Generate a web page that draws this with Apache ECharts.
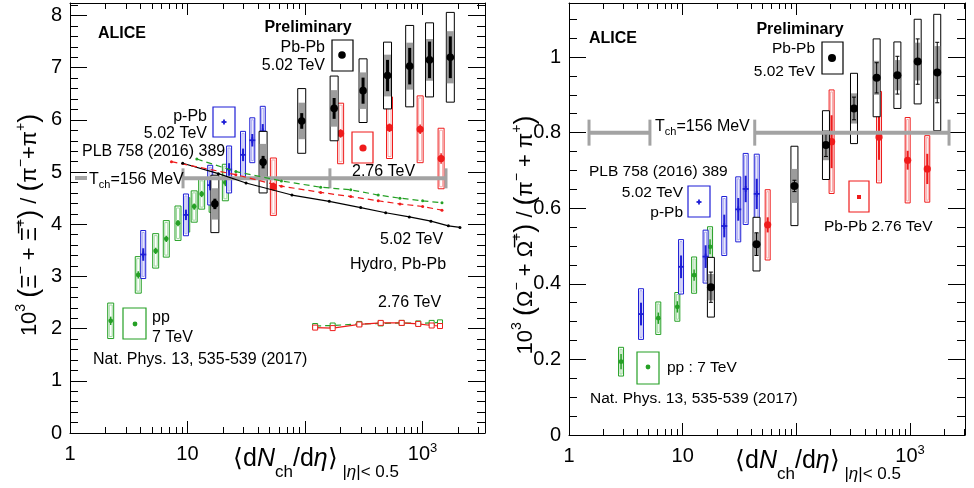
<!DOCTYPE html>
<html>
<head>
<meta charset="utf-8">
<title>ALICE multi-strange to pion ratios</title>
<script src="https://cdn.jsdelivr.net/npm/echarts@6/dist/echarts.min.js"></script>
<style>
  html, body { margin: 0; padding: 0; background: #fff; }
  #main { width: 974px; height: 488px; }
</style>
</head>
<body>
<div id="main"></div>
<script>
var FONT = '"Liberation Sans", Arial, Helvetica, sans-serif';

// ---------- left panel : Xi / pi ----------
var xiPP_x = [2.22, 3.81, 5.36, 6.6, 8.3, 9.85, 11.4, 13.2, 16.2, 21];
var xiPP_y = [2.15, 3.03, 3.49, 3.72, 4.02, 4.18, 4.34, 4.58, 4.53, 4.80];
var xiPP_sys = [0.34, 0.35, 0.33, 0.35, 0.33, 0.33, 0.30, 0.29, 0.30, 0.35];
var xiPP_stat = [0.08, 0.07, 0.06, 0.06, 0.06, 0.06, 0.06, 0.06, 0.06, 0.07];

var xiPPb_x = [4.2, 9.7, 15.6, 22.6, 29.7, 35.6, 43.7];
var xiPPb_y = [3.42, 4.18, 4.75, 5.05, 5.33, 5.61, 5.78];
var xiPPb_sys = [0.46, 0.40, 0.38, 0.45, 0.45, 0.43, 0.48];
var xiPPb_stat = [0.12, 0.10, 0.10, 0.12, 0.12, 0.12, 0.14];

var xiPb5_x = [17.1, 44, 93.8, 177, 312, 504, 778, 1148, 1725];
var xiPb5_y = [4.39, 5.19, 5.98, 6.22, 6.56, 6.85, 7.03, 7.15, 7.20];
var xiPb5_sys = [0.55, 0.59, 0.62, 0.62, 0.61, 0.64, 0.78, 0.71, 0.86];
var xiPb5_unc = [0.30, 0.35, 0.35, 0.35, 0.35, 0.40, 0.45, 0.40, 0.50];
var xiPb5_stat = [0.10, 0.12, 0.15, 0.20, 0.25, 0.30, 0.35, 0.35, 0.40];

var xiPb2_x = [53.8, 201, 524, 955, 1440];
var xiPb2_y = [4.72, 5.74, 5.85, 5.82, 5.26];
var xiPb2_sys = [0.55, 0.58, 0.59, 0.64, 0.58];
var xiPb2_stat = [0.08, 0.08, 0.08, 0.09, 0.10];

// hydro curves
var hyd502_x = [9.1, 18.3, 31.5, 77.4, 161, 298, 486, 772, 1180, 1660, 2084];
var hyd502_y = [5.17, 4.97, 4.79, 4.56, 4.44, 4.32, 4.22, 4.14, 4.06, 3.97, 3.94];
var hydG_x = [12, 25.8, 63, 136, 245, 420, 643, 1003, 1465];
var hydG_y = [5.25, 5.01, 4.83, 4.71, 4.66, 4.56, 4.50, 4.45, 4.41];
var hydR_x = [7.3, 25.8, 63, 136, 245, 420, 643, 1003, 1465];
var hydR_y = [5.20, 4.95, 4.73, 4.61, 4.53, 4.45, 4.39, 4.34, 4.27];
var low_x = [122, 172, 290, 441, 665, 920, 1197, 1409];
var lowR_y = [2.02, 2.01, 2.08, 2.11, 2.11, 2.09, 2.06, 2.05];
var lowG_y = [2.05, 2.06, 2.09, 2.10, 2.11, 2.10, 2.11, 2.12];

// T_ch = 156 MeV bands
var tchL_y = 4.88;
var tchL_segs = [[9.16, 1585]];
var tchL_caps = [9.16, 163, 1585];

// ---------- right panel : Omega / pi ----------
var omPP_x = [2.87, 6.1, 8.97, 12.6, 17.4];
var omPP_y = [0.194, 0.309, 0.339, 0.423, 0.498];
var omPP_sys = [0.038, 0.043, 0.038, 0.048, 0.053];
var omPP_stat = [0.02, 0.015, 0.015, 0.015, 0.02];

var omPPb_x = [4.3, 9.67, 15.9, 23.2, 30.8, 35.8, 44.8];
var omPPb_y = [0.32, 0.445, 0.472, 0.553, 0.597, 0.651, 0.638];
var omPPb_sys = [0.067, 0.072, 0.07, 0.078, 0.086, 0.094, 0.105];
var omPPb_stat = [0.03, 0.03, 0.03, 0.03, 0.03, 0.035, 0.04];

var omPb5_x = [17.7, 44.6, 96.1, 182, 321, 508, 773, 1166, 1733];
var omPb5_y = [0.391, 0.505, 0.659, 0.767, 0.864, 0.945, 0.952, 0.988, 0.959];
var omPb5_sys = [0.079, 0.071, 0.105, 0.091, 0.093, 0.103, 0.088, 0.112, 0.154];
var omPb5_unc = [0.035, 0.03, 0.045, 0.04, 0.04, 0.045, 0.04, 0.05, 0.07];
var omPb5_stat = [0.04, 0.03, 0.015, 0.03, 0.03, 0.04, 0.05, 0.06, 0.08];

var omPb2_x = [55.9, 204, 533, 952, 1416];
var omPb2_y = [0.556, 0.776, 0.788, 0.727, 0.704];
var omPb2_sys = [0.093, 0.137, 0.121, 0.113, 0.088];
var omPb2_stat = [0.02, 0.07, 0.06, 0.025, 0.04];

var tchR_y = 0.8;
var tchR_segs = [[1.5, 5.15], [43, 2200]];
var tchR_caps = [1.5, 5.15, 43, 2200];

// axis ticks
var logMajor = [1, 10, 100, 1000];
var logMinor = [2, 3, 4, 5, 6, 7, 8, 9, 20, 30, 40, 50, 60, 70, 80, 90,
  200, 300, 400, 500, 600, 700, 800, 900, 2000, 3000];
var logLabels = [1, 10, 1000];
var xiMajor = [0, 1, 2, 3, 4, 5, 6, 7, 8];
var omMajor = [0, 0.2, 0.4, 0.6, 0.8, 1];

function minorOf(step, max, major) {
  var out = [];
  for (var i = 1; i * step <= max + 1e-9; i++) {
    var v = +(i * step).toFixed(4);
    if (major.indexOf(v) < 0) out.push(v);
  }
  return out;
}
var xiMinor = minorOf(0.2, 8.24, xiMajor);
var omMinor = minorOf(0.05, 1.14, omMajor);

var C_GREEN = '#25a025', C_BLUE = '#1d1dd6', C_RED = '#ef1b1b', C_GREY = '#a3a3a3';

var blk = { color: '#000', lineStyle: { color: '#000', width: 1 } };

function logAxes(grid, max) {
  function ax(pos, major) {
    var a = {
      type: 'log', logBase: 10, gridIndex: grid, min: 1, max: max, position: pos,
      splitLine: { show: false },
      axisLine: { show: major, onZero: false, lineStyle: { color: '#000', width: 1 } },
      axisTick: { inside: true, length: major ? 12 : 6, customValues: major ? logMajor : logMinor,
        lineStyle: { color: '#000', width: 1 } },
      axisLabel: { show: false }
    };
    if (major && pos === 'bottom') {
      a.axisLabel = {
        show: true, customValues: logLabels, margin: 9, color: '#000',
        formatter: function (v) {
          v = Math.round(v);
          return v === 1000 ? '{a|10}{b|3}' : '{a|' + v + '}';
        },
        rich: {
          a: { fontSize: 20, fontFamily: FONT, color: '#000', lineHeight: 24 },
          b: { fontSize: 13, fontFamily: FONT, color: '#000', lineHeight: 13, verticalAlign: 'top' }
        }
      };
    }
    return a;
  }
  return [ax('bottom', true), ax('bottom', false), ax('top', true), ax('top', false)];
}

function valAxes(grid, max, major, minor, fmt) {
  function ax(pos, isMajor) {
    var a = {
      type: 'value', gridIndex: grid, min: 0, max: max, position: pos,
      splitLine: { show: false },
      axisLine: { show: isMajor, onZero: false, lineStyle: { color: '#000', width: 1 } },
      axisTick: { inside: true, length: isMajor ? 17 : 8, customValues: isMajor ? major : minor,
        lineStyle: { color: '#000', width: 1 } },
      axisLabel: { show: false }
    };
    if (isMajor && pos === 'left') {
      a.axisLabel = { show: true, customValues: major, formatter: fmt, fontSize: 20,
        fontFamily: FONT, color: '#000', margin: 8 };
    }
    return a;
  }
  return [ax('left', true), ax('left', false), ax('right', true), ax('right', false)];
}

function zip(xs, ys) { return xs.map(function (x, i) { return [x, ys[i]]; }); }

// box + stat bar + marker for each point
function errSeries(xi, xs, ys, sys, stat, unc, st) {
  var data = xs.map(function (x, i) {
    return [x, ys[i], sys[i], stat ? stat[i] : 0, unc ? unc[i] : 0];
  });
  return {
    type: 'custom', xAxisIndex: xi, yAxisIndex: xi, data: data, z: st.z || 3,
    silent: true, animation: false,
    renderItem: function (params, api) {
      var x = api.value(0), y = api.value(1);
      var p = api.coord([x, y]);
      var w = st.w, kids = [];
      var yt = api.coord([x, y + api.value(2)])[1];
      var yb = api.coord([x, y - api.value(2)])[1];
      kids.push({ type: 'rect', shape: { x: p[0] - w / 2, y: yt, width: w, height: yb - yt },
        style: { fill: '#fff', stroke: st.color, lineWidth: 1 } });
      if (api.value(4)) {
        var ut = api.coord([x, y + api.value(4)])[1], ub = api.coord([x, y - api.value(4)])[1];
        kids.push({ type: 'rect', shape: { x: p[0] - w / 2 + 0.5, y: ut, width: w - 1, height: ub - ut },
          style: { fill: st.uncFill } });
      }
      if (st.inner) {
        kids.push({ type: 'rect', shape: { x: p[0] - w / 2 + 1.5, y: yt + 2, width: w - 3, height: yb - yt - 4 },
          style: { fill: 'none', stroke: st.inner, lineWidth: 1 } });
      }
      if (api.value(3)) {
        var st1 = api.coord([x, y + api.value(3)])[1], st2 = api.coord([x, y - api.value(3)])[1];
        kids.push({ type: 'line', shape: { x1: p[0], y1: st1, x2: p[0], y2: st2 },
          style: { stroke: st.color, lineWidth: st.statW } });
        if (st.caps) {
          kids.push({ type: 'line', shape: { x1: p[0] - 2, y1: st1, x2: p[0] + 2, y2: st1 }, style: { stroke: st.color, lineWidth: 1 } });
          kids.push({ type: 'line', shape: { x1: p[0] - 2, y1: st2, x2: p[0] + 2, y2: st2 }, style: { stroke: st.color, lineWidth: 1 } });
        }
      }
      kids = kids.concat(marker(st.marker, p[0], p[1], st.r, st.color));
      return { type: 'group', children: kids };
    }
  };
}

function marker(kind, cx, cy, r, color) {
  if (kind === 'plus') {
    return [
      { type: 'line', shape: { x1: cx - r, y1: cy, x2: cx + r, y2: cy }, style: { stroke: color, lineWidth: 1.8 } },
      { type: 'line', shape: { x1: cx, y1: cy - r, x2: cx, y2: cy + r }, style: { stroke: color, lineWidth: 1.8 } }
    ];
  }
  if (kind === 'square') {
    return [{ type: 'rect', shape: { x: cx - r, y: cy - r, width: 2 * r, height: 2 * r }, style: { fill: color } }];
  }
  return [{ type: 'circle', shape: { cx: cx, cy: cy, r: r }, style: { fill: color } }];
}

function tchSeries(xi, y, segs, caps, half) {
  return [{
    type: 'custom', xAxisIndex: xi, yAxisIndex: xi, z: 4, silent: true, animation: false,
    data: segs.map(function (s) { return [s[0], y, s[1]]; }),
    renderItem: function (params, api) {
      var a = api.coord([api.value(0), api.value(1)]), b = api.coord([api.value(2), api.value(1)]);
      return { type: 'line', shape: { x1: a[0], y1: a[1], x2: b[0], y2: b[1] },
        style: { stroke: C_GREY, lineWidth: 4 } };
    }
  }, {
    type: 'custom', xAxisIndex: xi, yAxisIndex: xi, z: 4, silent: true, animation: false,
    data: caps.map(function (c) { return [c, y]; }),
    renderItem: function (params, api) {
      var a = api.coord([api.value(0), api.value(1)]);
      return { type: 'line', shape: { x1: a[0], y1: a[1] - half, x2: a[0], y2: a[1] + half },
        style: { stroke: C_GREY, lineWidth: 3 } };
    }
  }];
}

function curve(xs, ys, color, dashed, symbol, size) {
  return {
    type: 'line', xAxisIndex: 0, yAxisIndex: 0, data: zip(xs, ys), z: 5, silent: true, animation: false,
    lineStyle: { color: color, width: 1.2, type: dashed ? [6, 4] : 'solid' },
    symbol: symbol, symbolSize: size, showSymbol: true,
    itemStyle: symbol === 'rect' ? { color: '#fff', borderColor: color, borderWidth: 1 } : { color: color }
  };
}

var stPP = { w: 6, color: C_GREEN, inner: '#9fd89f', statW: 1.5, marker: 'circle', r: 2.4 };
var stPPb = { w: 5, color: C_BLUE, inner: '#a3a3f0', statW: 2, marker: 'plus', r: 3 };
var stPb5 = { w: 8, color: '#000', uncFill: '#9c9c9c', statW: 3, marker: 'circle', r: 3.8, z: 4 };
var stPb2 = { w: 6, color: C_RED, inner: '#f6a8a8', statW: 1.5, marker: 'circle', r: 3.6 };
var stPP_R = Object.assign({}, stPP, { w: 5 });
var stPb5_R = Object.assign({}, stPb5, { w: 7, statW: 1, caps: true, r: 4 });
var stPb2_R = Object.assign({}, stPb2, { w: 5, statW: 2 });

// ---------- annotations ----------
function txt(x, y, text, o) {
  o = o || {};
  return { type: 'text', x: x, y: y, z: o.z || 10, rotation: o.rot || 0,
    style: { text: text, fill: '#000', font: (o.bold ? 'bold ' : '') + (o.size || 16) + 'px ' + FONT,
      align: o.align || 'left', verticalAlign: 'middle', rich: o.rich } };
}
function legBox(x, y, w, h, color) {
  return { type: 'rect', z: 10, shape: { x: x, y: y, width: w, height: h },
    style: { fill: 'none', stroke: color, lineWidth: 1.2 } };
}
function legMark(kind, cx, cy, r, color) {
  return marker(kind, cx, cy, r, color).map(function (e) { e.z = 11; return e; });
}
var tchRich = {
  n: { fontSize: 16, fontFamily: FONT, lineHeight: 20 },
  s: { fontSize: 11, fontFamily: FONT, lineHeight: 11, verticalAlign: 'bottom' }
};
var xTitleRich = {
  m: { fontSize: 25, fontFamily: FONT, lineHeight: 44 },
  i: { fontSize: 25, fontFamily: FONT, fontStyle: 'italic', lineHeight: 44 },
  s: { fontSize: 17, fontFamily: FONT, lineHeight: 17, verticalAlign: 'bottom' },
  si: { fontSize: 17, fontFamily: FONT, fontStyle: 'italic', lineHeight: 17, verticalAlign: 'bottom' }
};
var xTitle = '{m|\u27e8d}{i|N}{s|ch}{m|/d}{i|\u03b7}{m|\u27e9}{s| |}{si|\u03b7}{s||< 0.5}';
var yRich = {
  m: { fontSize: 22, fontFamily: FONT, lineHeight: 32 },
  b: { fontSize: 27, fontFamily: FONT, lineHeight: 32 },
  p: { fontSize: 14, fontFamily: FONT, lineHeight: 14, verticalAlign: 'top' }
};
var yTitleL = '{m|10}{p|3}{m| }{b|(}{m|\u039e}{p|\u2212}{m| + \u039e\u0305}{p|+}{b|)}{m| / }{b|(}{m|\u03c0}{p|\u2212}{m|+\u03c0}{p|+}{b|)}';
var yTitleR = '{m|10}{p|3}{m| }{b|(}{m|\u03a9}{p|\u2212}{m| + \u03a9\u0305}{p|+}{b|)}{m| / }{b|(}{m|\u03c0}{p|\u2212}{m| + \u03c0}{p|+}{b|)}';

var graphics = [
  // left panel
  txt(98, 34, 'ALICE', { bold: true }),
  txt(308, 28, 'Preliminary', { bold: true, align: 'center' }),
  txt(325, 48, 'Pb-Pb', { align: 'right' }),
  txt(325, 66, '5.02 TeV', { align: 'right' }),
  legBox(332, 40, 21, 31, '#000')
].concat(legMark('circle', 342, 55, 3.8, '#000'), [
  txt(207, 117, 'p-Pb', { align: 'right' }),
  txt(207, 134, '5.02 TeV', { align: 'right' }),
  legBox(213, 107, 22, 30, C_BLUE)
], legMark('plus', 224, 122, 2.5, C_BLUE), [
  txt(82, 152, 'PLB 758 (2016) 389'),
  { type: 'line', z: 10, shape: { x1: 75, y1: 178, x2: 87, y2: 178 }, style: { stroke: C_GREY, lineWidth: 4 } },
  txt(89, 180, '{n|T}{s|ch}{n|=156 MeV}', { rich: tchRich }),
  txt(352, 172, '2.76 TeV', { z: 1 }),
  legBox(352, 132, 21, 31, C_RED)
], legMark('circle', 363, 148, 3.6, C_RED), [
  txt(380, 240, '5.02 TeV'),
  txt(350, 265, 'Hydro, Pb-Pb'),
  txt(378, 303, '2.76 TeV'),
  legBox(123, 308, 23, 31, C_GREEN)
], legMark('circle', 135, 324, 2.4, C_GREEN), [
  txt(152, 318, 'pp'),
  txt(152, 338, '7 TeV'),
  txt(93, 360, 'Nat. Phys. 13, 535-539 (2017)'),
  txt(30, 225, yTitleL, { rich: yRich, align: 'center', rot: Math.PI / 2 }),
  txt(316, 459, xTitle, { rich: xTitleRich, align: 'center' }),
  // right panel
  txt(589, 39, 'ALICE', { bold: true }),
  txt(800, 30, 'Preliminary', { bold: true, align: 'center' }),
  txt(815, 49, 'Pb-Pb', { align: 'right', size: 15.5 }),
  txt(815, 72, '5.02 TeV', { align: 'right', size: 15.5 }),
  legBox(822, 42, 21, 32, '#000')
], legMark('circle', 832, 58, 4, '#000'), [
  txt(655, 127, '{n|T}{s|ch}{n|=156 MeV}', { rich: tchRich }),
  txt(589, 172, 'PLB 758 (2016) 389', { size: 15.5 }),
  txt(683, 193, '5.02 TeV', { align: 'right', size: 15.5 }),
  txt(683, 213, 'p-Pb', { align: 'right', size: 15.5 }),
  legBox(688, 186, 22, 31, C_BLUE)
], legMark('plus', 699, 202, 2.5, C_BLUE), [
  legBox(849, 181, 20, 31, C_RED)
], legMark('square', 859, 197, 2, C_RED), [
  txt(824, 227, 'Pb-Pb 2.76 TeV', { size: 15.5 }),
  legBox(637, 352, 22, 32, C_GREEN)
], legMark('circle', 648, 367, 2.4, C_GREEN), [
  txt(667, 368, 'pp : 7 TeV', { size: 15.5 }),
  txt(590, 399, 'Nat. Phys. 13, 535-539 (2017)', { size: 15.5 }),
  txt(526, 235, yTitleR, { rich: yRich, align: 'center', rot: Math.PI / 2 }),
  txt(818, 461, xTitle, { rich: xTitleRich, align: 'center' })
]);

var chart = echarts.init(document.getElementById('main'));
chart.setOption({
  animation: false,
  backgroundColor: '#fff',
  grid: [
    { left: 70, top: 3, width: 415, height: 430 },
    { left: 569, top: 3, width: 396, height: 432 }
  ],
  xAxis: logAxes(0, 3404).concat(logAxes(1, 3040)),
  yAxis: valAxes(0, 8.24, xiMajor, xiMinor, function (v) { return String(Math.round(v)); })
    .concat(valAxes(1, 1.143, omMajor, omMinor, function (v) { return v === 0 ? '0' : v === 1 ? '1' : v.toFixed(1); })),
  series: [
    errSeries(0, xiPP_x, xiPP_y, xiPP_sys, xiPP_stat, null, stPP),
    errSeries(0, xiPPb_x, xiPPb_y, xiPPb_sys, xiPPb_stat, null, stPPb),
    errSeries(0, xiPb2_x, xiPb2_y, xiPb2_sys, xiPb2_stat, null, stPb2),
    errSeries(0, xiPb5_x, xiPb5_y, xiPb5_sys, xiPb5_stat, xiPb5_unc, stPb5),
    curve(hyd502_x, hyd502_y, '#000', false, 'circle', 3),
    curve(hydG_x, hydG_y, C_GREEN, true, 'circle', 3),
    curve(hydR_x, hydR_y, C_RED, true, 'circle', 3),
    curve(low_x, lowG_y, C_GREEN, true, 'rect', 5),
    curve(low_x, lowR_y, C_RED, false, 'rect', 5),
    errSeries(4, omPP_x, omPP_y, omPP_sys, omPP_stat, null, stPP_R),
    errSeries(4, omPPb_x, omPPb_y, omPPb_sys, omPPb_stat, null, stPPb),
    errSeries(4, omPb2_x, omPb2_y, omPb2_sys, omPb2_stat, null, stPb2_R),
    errSeries(4, omPb5_x, omPb5_y, omPb5_sys, omPb5_stat, omPb5_unc, stPb5_R)
  ].concat(tchSeries(0, tchL_y, tchL_segs, tchL_caps, 10), tchSeries(4, tchR_y, tchR_segs, tchR_caps, 13)),
  graphic: graphics
});
</script>
</body>
</html>
